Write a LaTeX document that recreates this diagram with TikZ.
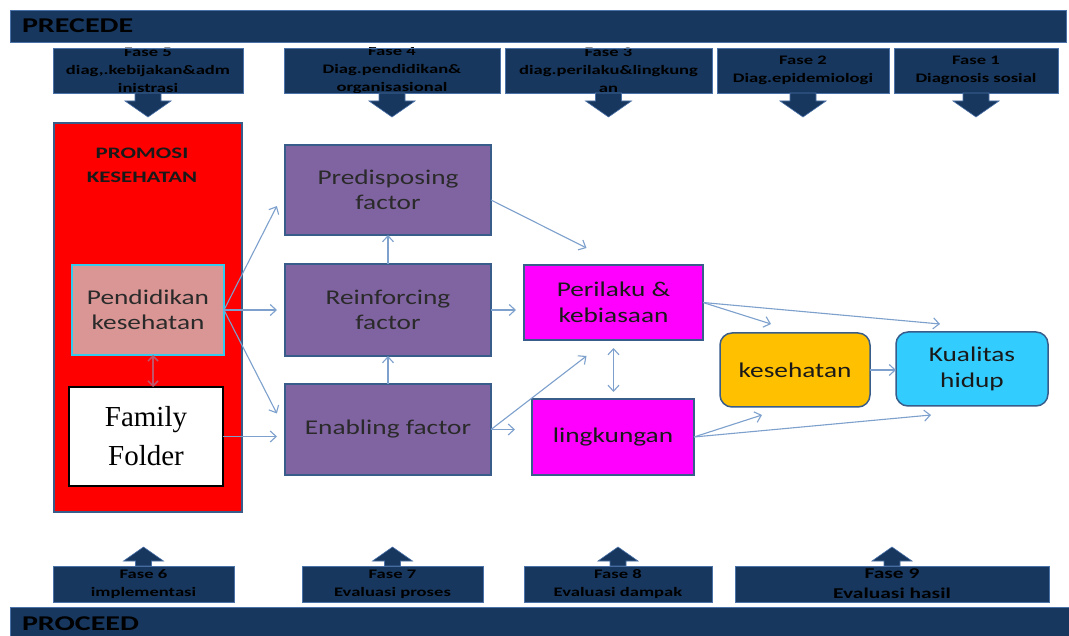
\documentclass[tikz,border=0pt]{standalone}
\usepackage{fontspec}
\setmainfont{Carlito}
\newfontfamily\bodyf[FakeStretch=1.3]{Carlito}
\newfontfamily\headf[FakeStretch=1.43]{Carlito}
\newfontfamily\timesf{Liberation Serif}
\usetikzlibrary{arrows.meta,calc}
\definecolor{navy}{HTML}{17375E}
\definecolor{navyedge}{HTML}{4A71A8}
\definecolor{outl}{HTML}{385D8A}
\definecolor{purp}{HTML}{8064A2}
\definecolor{rosef}{HTML}{D99694}
\definecolor{cyanedge}{HTML}{33CCEE}
\definecolor{magen}{HTML}{FF00FF}
\definecolor{orng}{HTML}{FFC000}
\definecolor{skyc}{HTML}{33CCFF}
\definecolor{arr}{RGB}{125,160,205}
\definecolor{dbl}{RGB}{192,85,105}
\definecolor{txtd}{HTML}{2A2A2A}
\begin{document}
\begin{tikzpicture}[x=1pt,y=-1pt,
  every node/.style={inner sep=0pt, outer sep=0pt},
  bar/.style={fill=navy, draw=navyedge, line width=0.8pt},
  fasebox/.style={fill=navy, draw=navyedge, line width=0.8pt},
  fasetext/.style={font=\headf\bfseries\fontsize{13}{18}\selectfont, text=black, align=center},
  bigfasetext/.style={font=\headf\bfseries\fontsize{15}{20}\selectfont, text=black, align=center},
  bodytext/.style={font=\bodyf\fontsize{21}{25.5}\selectfont, align=center, text=txtd},
  redbox/.style={fill=red, draw=outl, line width=1.5pt},
  pendbox/.style={bodytext, fill=rosef, draw=cyanedge, line width=2.2pt},
  ffbox/.style={fill=white, draw=black, line width=1.5pt, align=center, text=black},
  purpbox/.style={bodytext, fill=purp, draw=outl, line width=1.5pt},
  magbox/.style={bodytext, fill=magen, draw=outl, line width=1.5pt, text=black!90},
  kesbox/.style={bodytext, fill=orng, draw=outl, line width=1.5pt, rounded corners=12pt, text=black!90},
  kualbox/.style={bodytext, fill=skyc, draw=outl, line width=1.5pt, rounded corners=12pt, text=black!90},
  conn/.style={draw=arr, line width=1.1pt, -{Straight Barb[length=6pt,width=11pt]}},
  dblconn/.style={draw=dbl, line width=1.5pt, {Straight Barb[length=5pt,width=10pt]}-{Straight Barb[length=5pt,width=10pt]}},
  dnarrow/.pic={\filldraw[fill=navy, draw=navyedge, line width=0.6pt] (-13,0) -- (-13,8) -- (-23,8) -- (0,24) -- (23,8) -- (13,8) -- (13,0) -- cycle;},
  uparrow/.pic={\filldraw[fill=navy, draw=navyedge, line width=0.6pt] (-8,0) -- (-8,-5) -- (-20,-5) -- (0,-19) -- (20,-5) -- (8,-5) -- (8,0) -- cycle;}
]
\useasboundingbox (0,0) rectangle (1069,636);
\fill[white] (0,0) rectangle (1069,636);

% bars
\node[bar, anchor=north west, minimum width=1056pt, minimum height=32pt, text width=1032pt, inner xsep=12pt, align=left, font=\headf\bfseries\fontsize{21}{24}\selectfont, text=black] (precede) at (10,10) {PRECEDE};
\node[bar, anchor=north west, minimum width=1062pt, minimum height=33pt, text width=1038pt, inner xsep=12pt, align=left, font=\headf\bfseries\fontsize{21}{24}\selectfont, text=black] (proceed) at (10,607) {PROCEED};

% top phase boxes
\node[fasebox, minimum width=190pt, minimum height=45pt, path picture={\node[fasetext] at (path picture bounding box.center) {Fase 5\\diag,.kebijakan\&adm\\inistrasi};}] (f5) at (148,70.5) {};
\node[fasebox, minimum width=216pt, minimum height=45pt, path picture={\node[fasetext] at (path picture bounding box.center) {Fase 4\\Diag.pendidikan\&\\organisasional};}] (f4) at (392,70.5) {};
\node[fasebox, minimum width=207pt, minimum height=45pt, path picture={\node[fasetext] at (path picture bounding box.center) {Fase 3\\diag.perilaku\&lingkung\\an};}] (f3) at (608.5,70.5) {};
\node[fasebox, minimum width=172pt, minimum height=45pt, path picture={\node[fasetext] at (path picture bounding box.center) {Fase 2\\Diag.epidemiologi};}] (f2) at (803,70.5) {};
\node[fasebox, minimum width=164pt, minimum height=45pt, path picture={\node[fasetext] at (path picture bounding box.center) {Fase 1\\Diagnosis sosial};}] (f1) at (976,70.5) {};
\pic at (f5.south) {dnarrow};
\pic at (f4.south) {dnarrow};
\pic at (f3.south) {dnarrow};
\pic at (f2.south) {dnarrow};
\pic at (f1.south) {dnarrow};

% bottom phase boxes
\node[fasebox, minimum width=181pt, minimum height=36pt, path picture={\node[fasetext] at (path picture bounding box.center) {Fase 6\\implementasi};}] (f6) at (143.5,584) {};
\node[fasebox, minimum width=181pt, minimum height=36pt, path picture={\node[fasetext] at (path picture bounding box.center) {Fase 7\\Evaluasi proses};}] (f7) at (392.5,584) {};
\node[fasebox, minimum width=188pt, minimum height=36pt, path picture={\node[fasetext] at (path picture bounding box.center) {Fase 8\\Evaluasi dampak};}] (f8) at (618,584) {};
\node[fasebox, minimum width=314pt, minimum height=36pt, path picture={\node[bigfasetext] at (path picture bounding box.center) {Fase 9\\Evaluasi hasil};}] (f9) at (892,584) {};
\pic at (f6.north) {uparrow};
\pic at (f7.north) {uparrow};
\pic at (f8.north) {uparrow};
\pic at (f9.north) {uparrow};

% left column
\node[redbox, minimum width=188pt, minimum height=389pt] (promo) at (148,317.5) {};
\node[font=\headf\bfseries\fontsize{16}{24}\selectfont, align=center, text=black!90] (promT) at (142,165) {PROMOSI\\KESEHATAN};
\node[pendbox, minimum width=152pt, minimum height=90pt] (pend) at (148,310) {Pendidikan\\kesehatan};
\node[ffbox, minimum width=154pt, minimum height=99pt, font=\timesf\fontsize{29}{39}\selectfont] (ff) at (146,436.5) {Family\\Folder};

% factors
\node[purpbox, minimum width=206pt, minimum height=90pt] (pre) at (388,190) {Predisposing\\factor};
\node[purpbox, minimum width=206pt, minimum height=92pt] (rei) at (388,310) {Reinforcing\\factor};
\node[purpbox, minimum width=206pt, minimum height=91pt] (en) at (388,429.5) {Enabling factor};

% behaviour & environment
\node[magbox, minimum width=179pt, minimum height=75pt] (per) at (613.5,302.5) {Perilaku \&\\kebiasaan};
\node[magbox, minimum width=162pt, minimum height=76pt] (ling) at (613,437) {lingkungan};

% outcomes
\node[kesbox, minimum width=150pt, minimum height=74pt] (kes) at (795,370) {kesehatan};
\node[kualbox, minimum width=152pt, minimum height=74pt] (kual) at (972,369) {Kualitas\\hidup};

% free ends
\coordinate (preS) at ($(pre.east)+(0,10)$);
\coordinate (perTop) at ($(per.north)+(-27,-17)$);
\coordinate (perBot) at ($(per.south)+(-27,16)$);
\coordinate (kesTop) at ($(kes.north)+(-24,-9)$);
\coordinate (kualTop) at ($(kual.north)+(-32,-8)$);
\coordinate (kesBot) at ($(kes.south)+(-33,8)$);
\coordinate (kualBot) at ($(kual.south)+(-41,9)$);

% connectors
\draw[conn, shorten >=18pt] (pend.east) -- (pre.west);
\draw[conn, shorten >=8pt] (pend.east) -- (pend.east -| rei.west);
\draw[conn, shorten >=18pt] (pend.east) -- (en.west);
\draw[conn, shorten >=8pt] (ff.east) -- (ff.east -| en.west);
\draw[dblconn] ([xshift=5pt]pend.south) -- ([xshift=5pt]pend.south |- ff.north);
\draw[conn] (rei.north) -- (pre.south);
\draw[conn] (en.north) -- (rei.south);
\draw[conn] (preS) -- (perTop);
\draw[conn, shorten >=8pt] (rei.east) -- (rei.east -| per.west);
\draw[conn] (en.east) -- (perBot);
\draw[conn, shorten >=17pt] (en.east) -- (en.east -| ling.west);
\draw[conn, {Straight Barb[length=6pt,width=11pt]}-{Straight Barb[length=6pt,width=11pt]}, shorten <=8pt, shorten >=7pt] (per.south) -- (per.south |- ling.north);
\draw[conn] (per.east) -- (kesTop);
\draw[conn] (per.east) -- (kualTop);
\draw[conn] (kes.east) -- (kes.east -| kual.west);
\draw[conn] (ling.east) -- (kesBot);
\draw[conn] (ling.east) -- (kualBot);
\end{tikzpicture}
\end{document}
